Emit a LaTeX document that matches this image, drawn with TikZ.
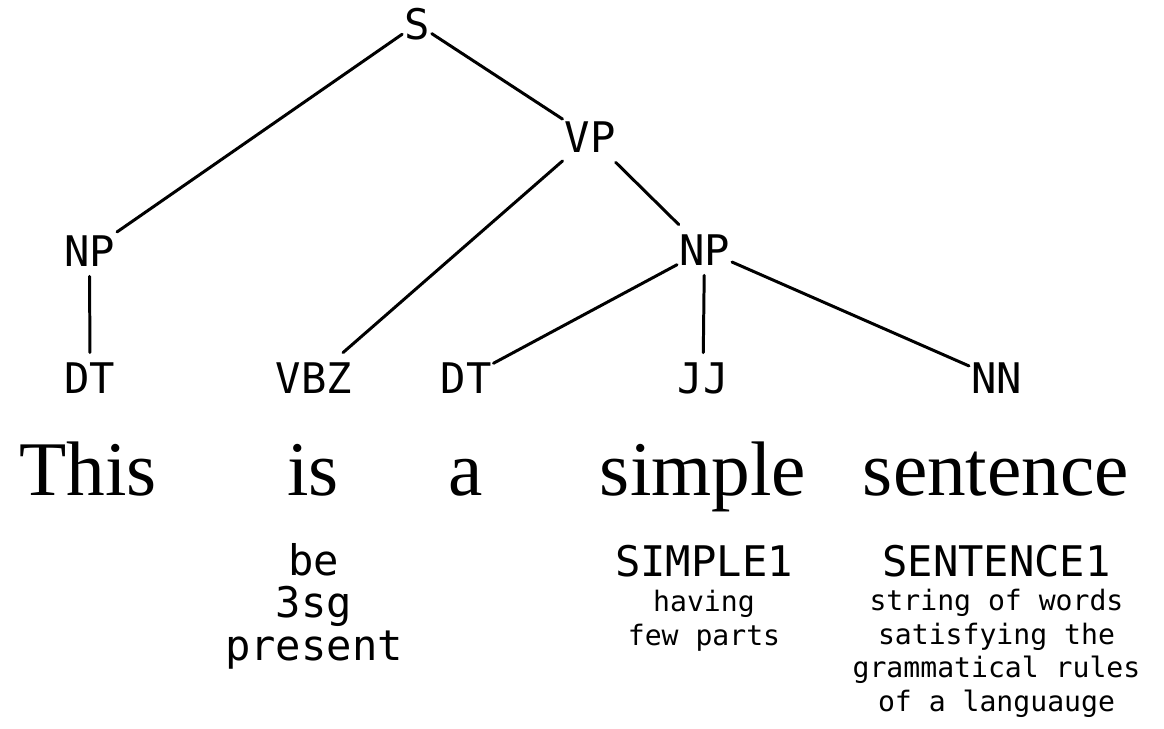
\documentclass[tikz,border=0pt]{standalone}
\usepackage{fontspec}
\setmainfont{Liberation Serif}
\setmonofont{DejaVu Sans Mono}
\tikzset{
	tag/.style={font=\ttfamily\fontsize{24}{27}\selectfont, anchor=base, inner xsep=1pt, inner ysep=0pt, text height=22.8pt, text depth=5.7pt},
	word/.style={font=\fontsize{44}{50}\selectfont, anchor=base, inner sep=0pt},
	feat/.style={font=\ttfamily\fontsize{24}{24}\selectfont, anchor=base, align=center, inner sep=0pt},
	gloss/.style={font=\ttfamily\fontsize{16}{19}\selectfont, anchor=base, align=center, inner sep=0pt},
	branch/.style={line width=1.7pt, line cap=round}
}

\begin{document}
\begin{tikzpicture}[x=0.02cm, y=-0.02cm]
			%%%%% START %%%%%
			\useasboundingbox (0, 0) rectangle (1164, 728);
			
			\node[tag] (s) at (417, 39) {S};
			\node[tag] (vp) at (590, 152) {VP};
			\node[tag] (np1) at (89.5, 266) {NP};
			\node[tag] (np2) at (704.5, 265) {NP};
			
			\node[tag] (dt1) at (90, 393) {DT};
			\node[tag] (vbz) at (314, 393) {VBZ};
			\node[tag] (dt2) at (466, 393) {DT};
			\node[tag] (jj) at (703, 393) {JJ};
			\node[tag] (nn) at (996.5, 393) {NN};
			
			\draw[branch] (s) -- (np1);
			\draw[branch] (s) -- (vp);
			\draw[branch] (np1) -- (dt1);
			\draw[branch] (vp) -- (vbz);
			\draw[branch] (vp) -- (np2);
			\draw[branch] (np2) -- (dt2);
			\draw[branch] (np2) -- (jj);
			\draw[branch] (np2) -- (nn);
			
			\node[word] (this) at (88, 495) {This};
			\node[word] (is) at (313, 495) {is};
			\node[word] (a) at (466, 495) {a};
			\node[word] (simple) at (703, 495) {simple};
			\node[word] (sentence) at (996, 495) {sentence};
			
			% multi-line nodes sit on the baseline of their last line
			\node[feat] (isfeat) at (314, 660) {be\\3sg\\present};
			\node[feat] (simplehead) at (704, 576) {SIMPLE1};
			\node[gloss] (simplegloss) at (704, 645) {having\\few parts};
			\node[feat] (sentencehead) at (996.5, 576) {SENTENCE1};
			\node[gloss] (sentencegloss) at (996.5, 711) {string of words\\satisfying the\\grammatical rules\\of a languauge};
			
			%%%%% END %%%%%
		\end{tikzpicture}
\end{document}
